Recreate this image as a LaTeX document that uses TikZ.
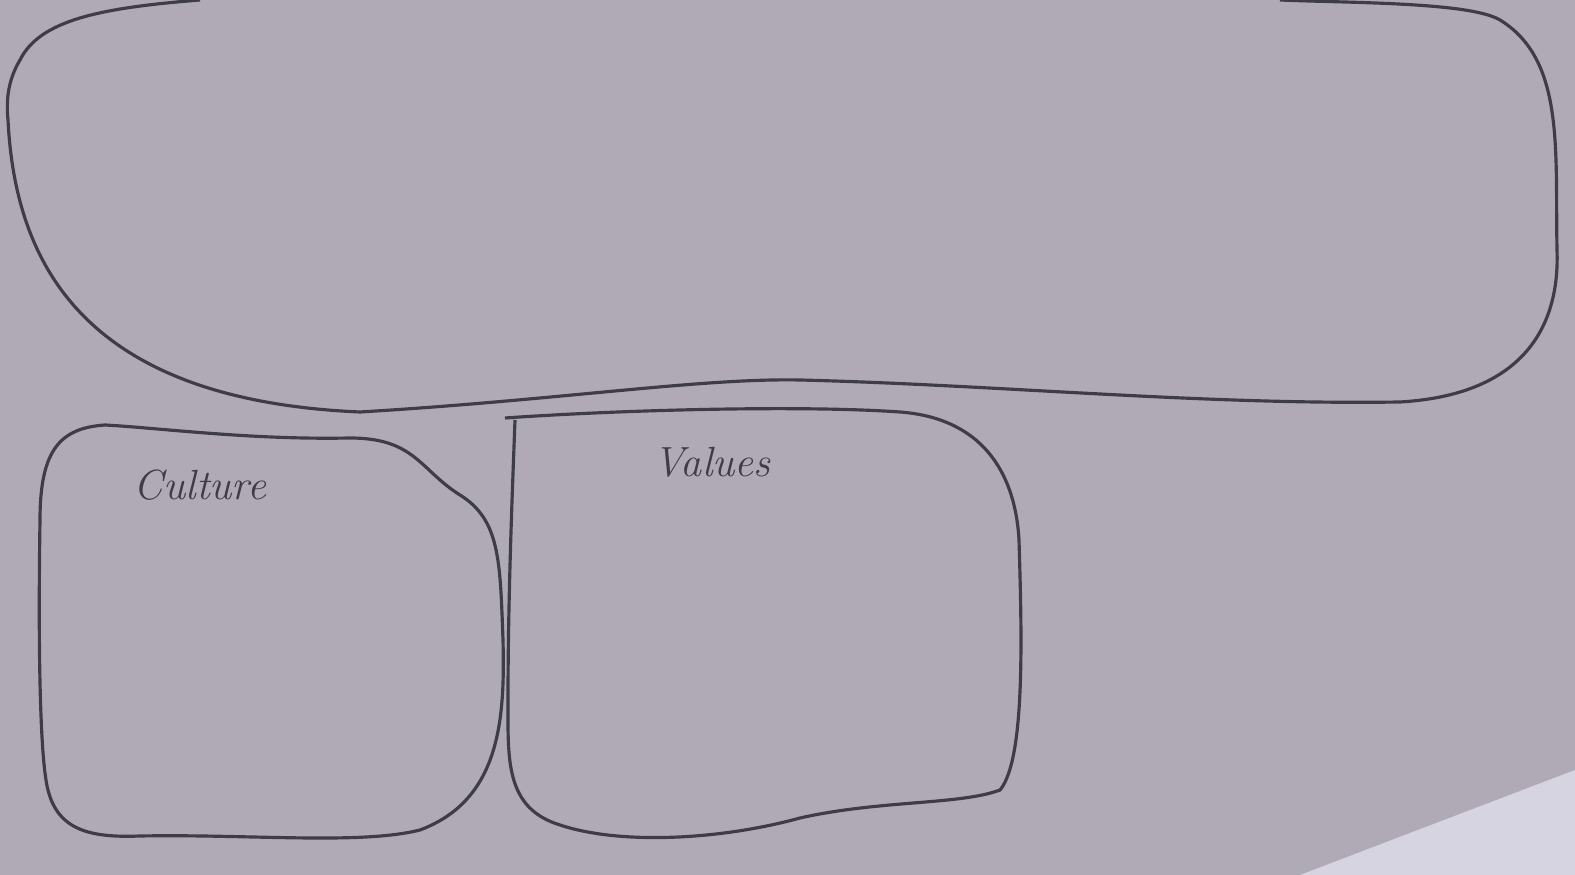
\documentclass[tikz,border=0pt]{standalone}
\usepackage{tikz}
\usetikzlibrary{positioning}

\definecolor{paper}{RGB}{176,170,182}
\definecolor{paperlight}{RGB}{214,212,224}
\definecolor{pencil}{RGB}{62,60,70}

\begin{document}
\begin{tikzpicture}[x=0.1mm, y=-0.1mm]
  % Sheet (one pixel = 0.1mm, y downwards)
  \fill[paper] (0,0) rectangle (1575,875);
  \fill[paperlight] (1575,770) -- (1300,875) -- (1575,875) -- cycle;
  \useasboundingbox (0,0) rectangle (1575,875);

  \tikzset{sketch/.style={draw=pencil, line width=0.9pt, line join=round}}

  % Upper box (open space, no label)
  \draw[sketch] (200,0) .. controls (100,8) and (40,20) .. (20,60)
    .. controls (8,80) and (6,100) .. (8,120)
    .. controls (15,260) and (80,400) .. (360,412)
    .. controls (560,400) and (700,378) .. (800,380)
    .. controls (1000,385) and (1200,405) .. (1400,402)
    .. controls (1520,395) and (1560,330) .. (1557,250)
    .. controls (1555,150) and (1565,60) .. (1500,20)
    .. controls (1470,2) and (1350,3) .. (1280,0);

  % Culture box
  \draw[sketch] (105,425) .. controls (60,428) and (40,450) .. (40,520)
    .. controls (38,650) and (40,760) .. (48,790)
    .. controls (58,830) and (90,838) .. (140,836)
    .. controls (250,834) and (360,845) .. (420,830)
    .. controls (500,800) and (505,720) .. (503,640)
    .. controls (500,560) and (500,520) .. (460,495)
    .. controls (420,470) and (415,438) .. (350,438)
    .. controls (250,440) and (160,428) .. (105,425);

  % Values box
  \draw[sketch] (505,418) .. controls (620,410) and (800,405) .. (900,412)
    .. controls (980,418) and (1015,470) .. (1019,540)
    .. controls (1022,640) and (1025,760) .. (1000,790)
    .. controls (960,805) and (880,800) .. (800,818)
    .. controls (720,840) and (620,845) .. (560,825)
    .. controls (505,808) and (508,760) .. (508,700)
    .. controls (508,600) and (512,500) .. (515,420);

  % Labels
  \node[text=pencil, font=\large\itshape] (culture) at (200,485) {Culture};
  \node[text=pencil, font=\large\itshape] (values) at (712,462) {Values};
\end{tikzpicture}
\end{document}
